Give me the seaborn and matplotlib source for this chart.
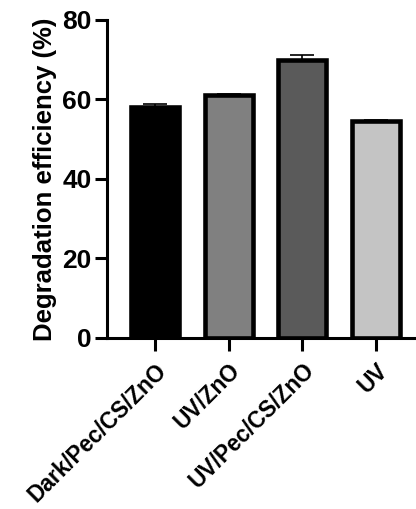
import matplotlib
matplotlib.use("Agg")
import matplotlib.pyplot as plt
import seaborn as sns
import pandas as pd

# valores
grupos = ["Dark/Pec/CS/ZnO", "UV/ZnO", "UV/Pec/CS/ZnO", "UV"]
eficiencia = [58.1, 61.0, 70.0, 54.6]
erro = [0.7, 0.3, 1.2, 0.3]
cores = ["#000000", "#808080", "#5a5a5a", "#c4c4c4"]

sns.set_style("ticks")
plt.rcParams["font.family"] = ["Liberation Sans", "DejaVu Sans"]
plt.rcParams["font.weight"] = "bold"
for k in ["text.color", "axes.labelcolor", "xtick.color", "ytick.color"]:
    plt.rcParams[k] = "black"

df = pd.DataFrame({"grupo": grupos, "ef": eficiencia})

fig = plt.figure(figsize=(4.16, 5.09), dpi=100)
ax = fig.add_axes([0.257, 0.336, 0.743, 0.625])

sns.barplot(data=df, x="grupo", y="ef", hue="grupo", palette=cores,
            width=0.65, edgecolor="black", linewidth=3.3, legend=False,
            errorbar=None, ax=ax)
ax.errorbar(range(len(grupos)), eficiencia, yerr=[[0] * len(erro), erro],
            fmt="none", ecolor="black", elinewidth=1.2, capsize=8.3,
            capthick=1.2, zorder=3)

ax.set_ylim(0, 80)
ax.set_yticks([0, 20, 40, 60, 80])
ax.set_xlim(-0.65, 3.54)
ax.set_xlabel("")
ax.set_ylabel("Degradation efficiency (%)", fontsize=18.5, fontweight="bold",
              labelpad=4)
ax.set_xticks(range(len(grupos)))
ax.set_xticklabels(grupos, rotation=45, ha="right", rotation_mode="anchor",
                   fontsize=16.3, fontweight="bold")
for lab in ax.get_yticklabels():
    lab.set_fontsize(19)
    lab.set_fontweight("bold")
ax.tick_params(axis="both", width=2.2, length=9, color="black", pad=2)
ax.tick_params(axis="x", pad=6)
sns.despine(ax=ax)
for s in ["left", "bottom"]:
    ax.spines[s].set_linewidth(2.2)
    ax.spines[s].set_color("black")

fig.savefig("out.png", dpi=100)
